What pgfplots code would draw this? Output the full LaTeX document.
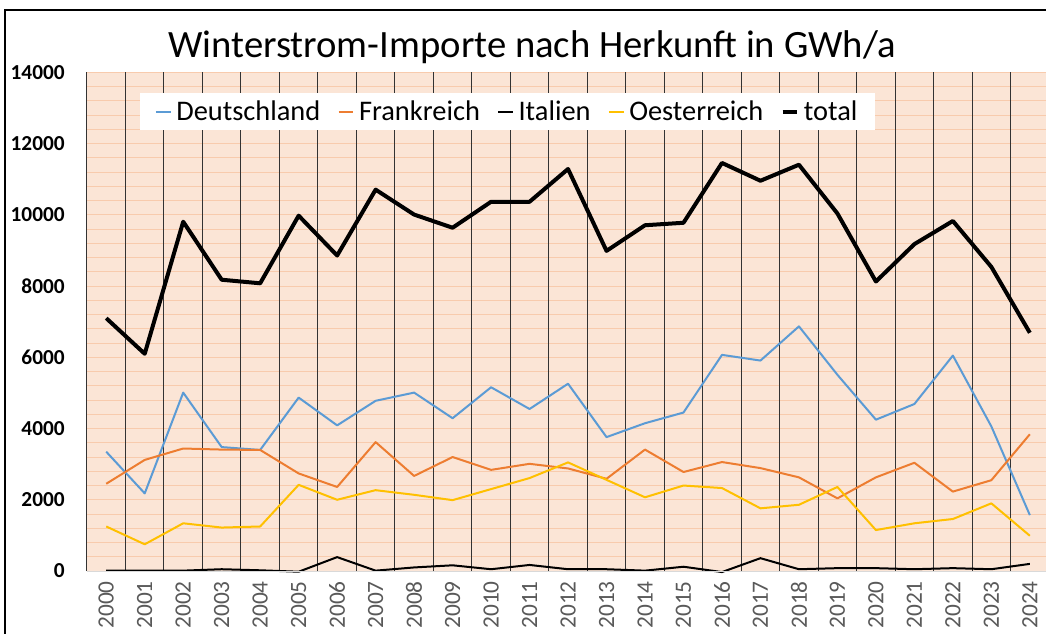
\documentclass[border=0pt]{standalone}
\usepackage{fontspec}
\setmainfont{Carlito}
\usepackage{pgfplots}
\usepackage{pgfplotstable}
\pgfplotsset{compat=1.18}
\definecolor{bgc}{HTML}{FBE5D6}
\definecolor{gridc}{HTML}{F8CBAD}
\definecolor{cde}{HTML}{5B9BD5}
\definecolor{cfr}{HTML}{ED7D31}
\definecolor{cat}{HTML}{FFC000}
\definecolor{tickc}{HTML}{595959}
\pgfplotstableread{
x de fr it at total
0 3350 2450 10 1250 7100
1 2180 3120 10 750 6100
2 5010 3440 10 1340 9810
3 3480 3410 50 1220 8180
4 3400 3400 20 1250 8080
5 4870 2740 -20 2420 9980
6 4090 2360 390 2000 8860
7 4780 3620 10 2270 10710
8 5010 2670 100 2140 10010
9 4290 3200 160 1990 9640
10 5160 2840 50 2300 10370
11 4550 3010 170 2610 10370
12 5260 2880 50 3050 11290
13 3760 2590 50 2560 8990
14 4150 3410 10 2070 9710
15 4450 2780 120 2400 9780
16 6070 3060 -30 2330 11460
17 5910 2890 360 1760 10960
18 6870 2630 50 1860 11410
19 5510 2040 80 2360 10040
20 4250 2630 80 1150 8130
21 4690 3040 50 1340 9180
22 6050 2230 80 1460 9830
23 4060 2550 50 1900 8540
24 1570 3840 200 990 6690
}\datatable
\begin{document}
\begin{tikzpicture}
\path[use as bounding box] (0pt,0pt) rectangle (784.5pt,474.75pt);
\begin{axis}[
  at={(65.25pt,46.5pt)}, anchor=south west,
  scale only axis, width=719.25pt, height=373.875pt,
  xmin=-0.5, xmax=24.42, ymin=0, ymax=14000,
  clip=false,
  axis background/.style={fill=bgc},
  axis line style={draw=none},
  major tick length=0pt, minor tick length=0pt,
  xtick={0,...,24},
  xticklabels={2000,2001,2002,2003,2004,2005,2006,2007,2008,2009,2010,2011,2012,2013,2014,2015,2016,2017,2018,2019,2020,2021,2022,2023,2024},
  xticklabel style={rotate=90, anchor=east, inner sep=0pt, text=tickc, font=\fontsize{17.5}{20}\selectfont},
  xticklabel shift=7.5pt,
  extra x ticks={-0.5,0.5,...,23.5},
  extra x tick labels={},
  extra x tick style={grid=major, major grid style={draw=black!80, line width=0.75pt}, major tick length=0pt},
  ytick={0,2000,...,14000},
  minor ytick={400,800,...,14000},
  ymajorgrids, yminorgrids,
  major y grid style={draw=gridc, line width=0.75pt},
  minor y grid style={draw=gridc, line width=0.75pt},
  scaled y ticks=false,
  yticklabel style={anchor=east, inner sep=0pt, font=\bfseries\fontsize{16}{19}\selectfont},
  yticklabel shift=16.5pt,
  /pgf/number format/assume math mode=true,
  /pgf/number format/1000 sep={},
  legend columns=5,
  legend style={at={(0.0553,0.9599)}, anchor=north west, draw=none, fill=white,
    font=\fontsize{21.3}{25}\selectfont, inner xsep=11pt, inner ysep=4pt,
    /tikz/every odd column/.append style={column sep=1.5pt},
    /tikz/every even column/.append style={column sep=11pt}},
  legend image code/.code={\draw[#1] (0pt,0pt) -- (11pt,0pt);},
  every axis plot/.append style={line join=round},
]
\addplot[cde, line width=1.5pt] table[x=x,y=de] {\datatable};
\addlegendentry{Deutschland}
\addplot[cfr, line width=1.5pt] table[x=x,y=fr] {\datatable};
\addlegendentry{Frankreich}
\addplot[black, line width=1.5pt] table[x=x,y=it] {\datatable};
\addlegendentry{Italien}
\addplot[cat, line width=1.5pt] table[x=x,y=at] {\datatable};
\addlegendentry{Oesterreich}
\addplot[black, line width=3pt] table[x=x,y=total] {\datatable};
\addlegendentry{total}
\draw[black!15, line width=0.75pt] (axis cs:-0.5,0) -- (axis cs:24.42,0);
\end{axis}
\draw[line width=1.5pt] (3.75pt,-5pt) -- (3.75pt,466.875pt) -- (790pt,466.875pt);
\node[anchor=base, inner sep=0pt, font=\fontsize{29}{34}\selectfont] at (399pt,431.25pt) {Winterstrom-Importe nach Herkunft in GWh/a};
\end{tikzpicture}
\end{document}
